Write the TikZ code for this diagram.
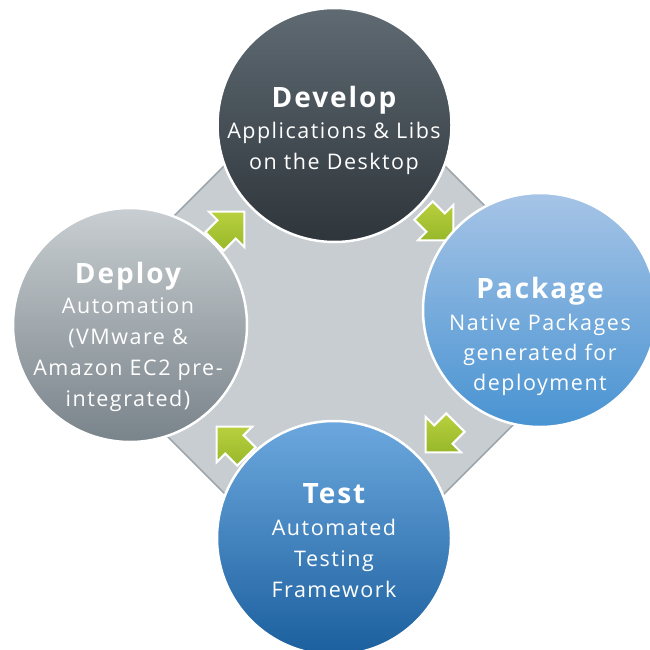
\documentclass[tikz,border=0pt]{standalone}
\usepackage{fontspec}
\setmainfont[LetterSpace=7]{Open Sans}
\definecolor{diafill}{HTML}{C7CDD0}
\definecolor{diaedge}{HTML}{9EA6AB}
\definecolor{devtop}{HTML}{5F6A72}
\definecolor{devbot}{HTML}{2E353B}
\definecolor{pkgtop}{HTML}{A6C4E6}
\definecolor{pkgbot}{HTML}{4893D2}
\definecolor{tsttop}{HTML}{6CA8DE}
\definecolor{tstbot}{HTML}{1B5F9E}
\definecolor{dpltop}{HTML}{C8CED1}
\definecolor{dplbot}{HTML}{79838A}
\definecolor{arrtop}{HTML}{B9D03E}
\definecolor{arrbot}{HTML}{97B82A}
\begin{document}
\begin{tikzpicture}[x=1pt,y=-1pt,
  stage/.style={circle, minimum size=234pt, inner sep=0pt, draw=white, line width=2.5pt},
  ttl/.style={anchor=base, inner sep=0pt, text=white, font=\fontsize{28}{34}\selectfont\bfseries},
  txt/.style={anchor=base, inner sep=0pt, text=white, font=\fontsize{21.5}{26}\selectfont},
  cyclearrow/.pic={
    \path[draw=white, line width=2pt, line join=miter, top color=arrtop, bottom color=arrbot]
      (23,0) -- (-2,25) -- (-2,13) -- (-19,13) -- (-19,-13) -- (-2,-13) -- (-2,-25) -- cycle;
  }]
\useasboundingbox (0,0) rectangle (650,650);
\clip (0,0) rectangle (650,650);
% background diamond
\path[fill=diafill, draw=diaedge, line width=1.5pt]
  (334.5,55.5) -- (608.5,329.5) -- (334.5,603.5) -- (60.5,329.5) -- cycle;
% arrows
\pic[rotate=-45] at (437,224) {cyclearrow};
\pic[rotate=-135] at (442,436) {cyclearrow};
\pic[rotate=135] at (233,443) {cyclearrow};
\pic[rotate=45] at (228,228) {cyclearrow};
% stages
\node[stage, top color=devtop, bottom color=devbot] (dev) at (334.5,125) {};
\node[stage, top color=pkgtop, bottom color=pkgbot] (pkg) at (540,310) {};
\node[stage, top color=tsttop, bottom color=tstbot] (tst) at (334,538) {};
\node[stage, top color=dpltop, bottom color=dplbot] (dpl) at (130,325) {};
% texts
\node[ttl] (devt) at (334,107) {Develop};
\node[txt] (dev1) at (334,139) {Applications \& Libs};
\node[txt] (dev2) at (334,169) {on the Desktop};
\node[ttl] (pkgt) at (540,298) {Package};
\node[txt] (pkg1) at (540,330) {Native Packages};
\node[txt] (pkg2) at (540,360) {generated for};
\node[txt] (pkg3) at (540,390) {deployment};
\node[ttl] (tstt) at (334,503) {Test};
\node[txt] (tst1) at (334,535) {Automated};
\node[txt] (tst2) at (334,566) {Testing};
\node[txt] (tst3) at (334,597) {Framework};
\node[ttl] (dplt) at (128,283) {Deploy};
\node[txt] (dpl1) at (128,313) {Automation};
\node[txt] (dpl2) at (128,344) {(VMware \&};
\node[txt] (dpl3) at (128,375) {Amazon EC2 pre-};
\node[txt] (dpl4) at (128,406) {integrated)};
\end{tikzpicture}
\end{document}
